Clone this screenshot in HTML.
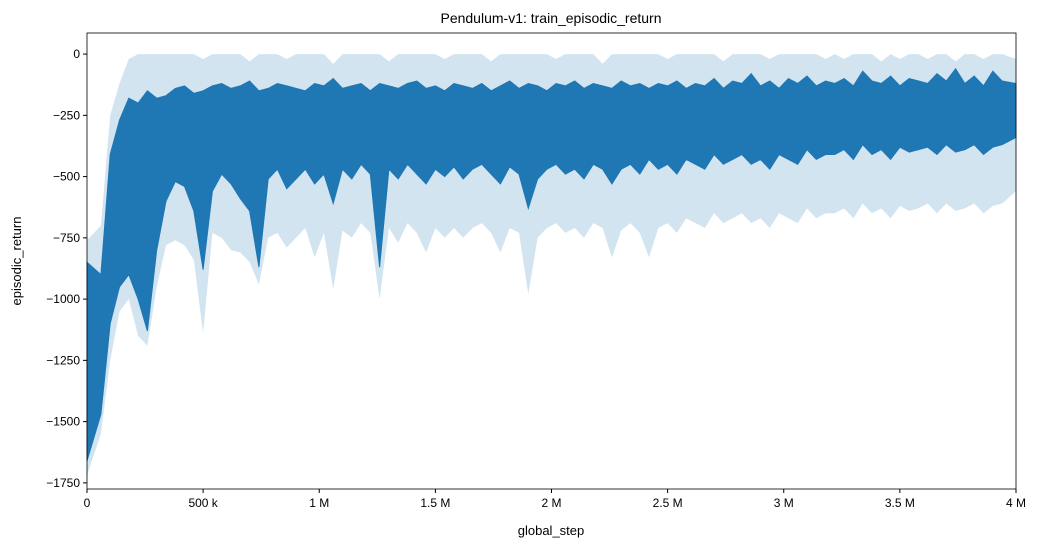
<!DOCTYPE html>
<html><head><meta charset="utf-8"><style>
body{margin:0;background:#fff;}
svg{display:block;font-family:"Liberation Sans","DejaVu Sans",sans-serif;}
</style></head><body>
<svg id="chart" width="1038" height="547">
<rect x="0" y="0" width="1038" height="547" fill="#fff"/>
<g id="plot"></g>
<g id="axes"></g>
<text x="551" y="23" text-anchor="middle" font-size="14" fill="#000">Pendulum-v1: train_episodic_return</text>
<text x="551" y="535" text-anchor="middle" font-size="13" fill="#000">global_step</text>
<text x="21" y="261" text-anchor="middle" font-size="13" fill="#000" transform="rotate(-90 21 261)">episodic_return</text>
</svg>
<script>
const bucketSize = 40000;
const meanHi = [-850,-900,-410,-270,-180,-200,-150,-180,-170,-140,
-130,-160,-150,-130,-120,-140,-130,-110,-150,-140,
-120,-130,-140,-150,-120,-130,-100,-140,-130,-120,
-150,-120,-130,-140,-120,-110,-140,-130,-150,-120,
-130,-140,-120,-150,-130,-110,-140,-120,-130,-150,
-120,-130,-110,-140,-120,-130,-140,-110,-130,-120,
-140,-120,-130,-110,-140,-120,-130,-100,-140,-110,
-120,-80,-130,-110,-140,-100,-120,-90,-130,-110,
-120,-100,-130,-70,-110,-120,-90,-130,-100,-110,
-120,-80,-110,-60,-120,-90,-130,-70,-110,-120];
const meanLo = [-1660,-1470,-1100,-950,-900,-1000,-1130,-800,-600,-520,
-540,-640,-880,-560,-490,-530,-590,-640,-870,-510,
-470,-550,-510,-470,-530,-490,-610,-470,-510,-450,
-490,-870,-470,-510,-450,-490,-530,-470,-500,-460,
-510,-470,-450,-490,-530,-460,-490,-630,-510,-470,
-450,-490,-470,-510,-450,-470,-530,-470,-450,-490,
-430,-470,-450,-490,-430,-450,-470,-410,-450,-430,
-410,-450,-430,-470,-410,-430,-450,-390,-430,-410,
-410,-390,-430,-370,-410,-390,-430,-380,-400,-390,
-380,-410,-370,-400,-390,-370,-410,-380,-370,-340];
const bandHi = [-760,-700,-250,-120,-20,0,0,0,0,0,
0,0,-20,0,0,0,0,-30,0,0,
0,-20,0,0,0,0,-40,0,0,0,
0,0,-30,0,0,0,0,0,-20,0,
0,0,0,-30,0,0,0,0,0,0,
-20,0,0,0,0,-40,0,0,0,0,
0,0,-20,0,0,0,0,0,-30,0,
0,0,0,-20,0,0,0,0,0,-20,
0,-20,0,0,0,-30,0,-20,0,0,
-20,0,0,-30,0,0,-20,0,0,-20];
const bandLo = [-1720,-1550,-1250,-1050,-1000,-1150,-1190,-950,-780,-760,
-780,-840,-1140,-730,-750,-800,-810,-850,-940,-750,
-730,-790,-750,-710,-830,-730,-960,-720,-750,-690,
-730,-1000,-710,-770,-690,-730,-810,-710,-750,-710,
-750,-710,-690,-730,-810,-710,-730,-980,-750,-710,
-690,-730,-710,-750,-690,-710,-830,-720,-690,-730,
-830,-710,-690,-730,-670,-690,-710,-650,-690,-670,
-650,-690,-670,-710,-650,-670,-690,-630,-670,-650,
-650,-630,-670,-610,-650,-630,-670,-620,-640,-630,
-610,-650,-610,-640,-630,-610,-650,-620,-610,-560];
const xTicks = [0,500000,1000000,1500000,2000000,2500000,3000000,3500000,4000000];
const xTickLabels = ["0","500 k","1 M","1.5 M","2 M","2.5 M","3 M","3.5 M","4 M"];
const yTicks = [0,-250,-500,-750,-1000,-1250,-1500,-1750];
const yTickLabels = ["0","−250","−500","−750","−1000","−1250","−1500","−1750"];

const L=87,R=1016,T=33,B=489;
const xMin=0,xMax=4000000,yMin=-1775,yMax=86;
const sx=v=>L+(v-xMin)/(xMax-xMin)*(R-L);
const sy=v=>B-(v-yMin)/(yMax-yMin)*(B-T);
const NS='http://www.w3.org/2000/svg';
const plot=document.getElementById('plot'), axes=document.getElementById('axes');

function envelope(hi,lo){
  const up=[],dn=[];
  const n=hi.length;
  for(let i=0;i<n;i++){
    const x0=sx(i*bucketSize), x1=sx((i+1)*bucketSize);
    const xc=(i===0)?x0:(i===n-1?x1:(x0+x1)/2);
    up.push([xc,sy(hi[i])]);
    dn.push([xc,sy(lo[i])]);
  }
  return up.concat(dn.reverse()).map(p=>p[0].toFixed(1)+','+p[1].toFixed(1)).join(' ');
}
const band=document.createElementNS(NS,'polygon');
band.setAttribute('points',envelope(bandHi,bandLo));
band.setAttribute('fill','#1f77b4');band.setAttribute('fill-opacity','0.2');


plot.appendChild(band);
const mean=document.createElementNS(NS,'polygon');
mean.setAttribute('points',envelope(meanHi,meanLo));
mean.setAttribute('fill','#1f77b4');mean.setAttribute('stroke','#1f77b4');mean.setAttribute('stroke-width','1');


plot.appendChild(mean);

const frame=document.createElementNS(NS,'rect');
frame.setAttribute('x',L);frame.setAttribute('y',T);frame.setAttribute('width',R-L);frame.setAttribute('height',B-T);
frame.setAttribute('fill','none');frame.setAttribute('stroke','#000');frame.setAttribute('stroke-width','0.8');


axes.appendChild(frame);

xTicks.forEach((v,i)=>{
  const x=sx(v);
  const t=document.createElementNS(NS,'line');
  t.setAttribute('x1',x);t.setAttribute('x2',x);t.setAttribute('y1',B);t.setAttribute('y2',B+4);t.setAttribute('stroke','#000');
  
  
  axes.appendChild(t);
  const s=document.createElementNS(NS,'text');
  s.setAttribute('x',x);s.setAttribute('y',B+18);s.setAttribute('text-anchor','middle');s.setAttribute('font-size','12');
  s.textContent=xTickLabels[i];
  
  
  axes.appendChild(s);
});
yTicks.forEach((v,i)=>{
  const y=sy(v);
  const t=document.createElementNS(NS,'line');
  t.setAttribute('x1',L-4);t.setAttribute('x2',L);t.setAttribute('y1',y);t.setAttribute('y2',y);t.setAttribute('stroke','#000');
  
  
  axes.appendChild(t);
  const s=document.createElementNS(NS,'text');
  s.setAttribute('x',L-7);s.setAttribute('y',y+4);s.setAttribute('text-anchor','end');s.setAttribute('font-size','12');
  s.textContent=yTickLabels[i];
  
  
  axes.appendChild(s);
});
</script>
</body></html>
